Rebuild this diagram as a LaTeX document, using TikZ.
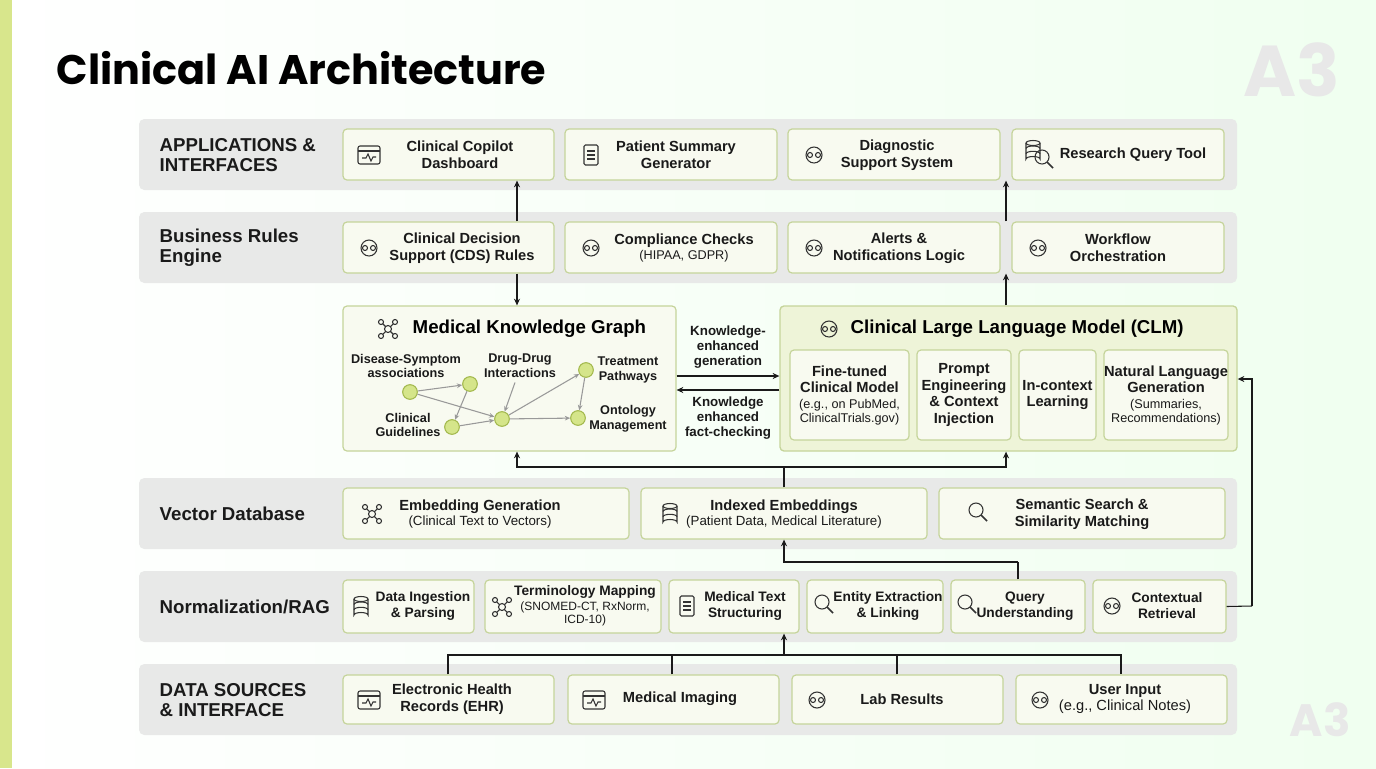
\documentclass[tikz,border=0pt]{standalone}
\usepackage{fontspec}
\setmainfont{Liberation Sans}
\newfontfamily\titlefont{Poppins}
\usetikzlibrary{fit,arrows.meta,calc}
\definecolor{band}{HTML}{E8E9E8}
\definecolor{bfill}{HTML}{F8FAF0}
\definecolor{bline}{HTML}{C5D49A}
\definecolor{clmfill}{HTML}{EEF4D8}
\definecolor{gnode}{HTML}{D5E58A}
\definecolor{gline}{HTML}{A3B94E}
\definecolor{ink}{HTML}{1A1A1A}
\definecolor{icon}{HTML}{333333}
\definecolor{strip}{HTML}{D8E68C}
\tikzset{
 x=0.75pt,y=-0.75pt,
 bandbox/.style={fill=band,draw=none,rounded corners=4pt,inner sep=0pt},
 box/.style={fill=bfill,draw=bline,line width=0.9pt,rounded corners=3pt,inner sep=0pt},
 clmbox/.style={fill=clmfill,draw=bline,line width=1pt,rounded corners=3pt,inner sep=0pt},
 bandlabel/.style={anchor=west,align=left,font=\bfseries\fontsize{14}{15}\selectfont,text=ink},
 bt/.style={align=center,font=\bfseries\fontsize{11}{12.5}\selectfont,text=ink},
 nt/.style={align=center,font=\bfseries\fontsize{10.3}{12}\selectfont,text=ink},
 conn/.style={draw=ink,line width=0.8pt},
 arr/.style={conn,-{Stealth[length=5pt,width=4.5pt]}},
 gdot/.style={circle,fill=gnode,draw=gline,line width=0.8pt,minimum size=11pt,inner sep=0pt},
 garr/.style={draw=gray!80,line width=0.8pt,-{Stealth[length=4pt,width=3.5pt]}},
 gl/.style={align=center,font=\bfseries\fontsize{9.5}{11}\selectfont,text=ink},
 ic/.style={draw=icon,line width=0.8pt},
}
\newcommand{\bx}[6][box]{\node[#1,fit={(#3,#4)(#5,#6)}] (#2) {};}
\newcommand{\icdb}[2]{\begin{scope}[shift={(#1,#2)}]\draw[ic] (-7,-8) -- (-7,8) arc[start angle=180,end angle=360,x radius=7,y radius=2.5] -- (7,-8); \draw[ic] (0,-8) ellipse[x radius=7,y radius=2.5]; \draw[ic] (-7,-2.5) arc[start angle=180,end angle=360,x radius=7,y radius=2.5]; \draw[ic] (-7,2.8) arc[start angle=180,end angle=360,x radius=7,y radius=2.5];\end{scope}}
\newcommand{\icmag}[2]{\begin{scope}[shift={(#1,#2)}]\draw[ic] (-2,-2) circle[radius=7]; \draw[ic,line width=1.2pt] (3,3) -- (9,9);\end{scope}}
\newcommand{\icdoc}[2]{\begin{scope}[shift={(#1,#2)}]\draw[ic,rounded corners=1pt] (-7,-10) rectangle (7,10); \foreach \yy in {-4,0,4}{\draw[ic] (-4,\yy) -- (4,\yy);}\end{scope}}
\newcommand{\icscr}[2]{\begin{scope}[shift={(#1,#2)}]\draw[ic,rounded corners=1.5pt] (-11,-9) rectangle (11,9); \draw[ic] (-11,-4) -- (11,-4); \draw[ic] (-7,3) -- (-3,3) -- (-1,-1) -- (2,6) -- (4,2) -- (7,2);\end{scope}}
\newcommand{\icgen}[2]{\begin{scope}[shift={(#1,#2)}]\draw[ic] (0,0) circle[radius=8]; \draw[ic] (-4,0) circle[radius=2.5]; \draw[ic] (4,0) circle[radius=2.5];\end{scope}}
\newcommand{\icnet}[2]{\begin{scope}[shift={(#1,#2)}]\draw[ic] (-7,-7) -- (7,7) (7,-7) -- (-7,7); \foreach \p in {(-7,-7),(7,7),(7,-7),(-7,7)}{\draw[ic,fill=bfill] \p circle[radius=2.5];}\draw[ic,fill=bfill] (0,0) circle[radius=3.5];\end{scope}}
\begin{document}
\begin{tikzpicture}
\useasboundingbox (0,0) rectangle (1376,768);
\shade[left color=white,right color=green!6!white] (0,0) rectangle (1376,768);
\fill[strip] (0,0) rectangle (12,768);
\node[anchor=west,font=\titlefont\bfseries\fontsize{31}{34}\selectfont,text=black] (title) at (52,68) {Clinical AI Architecture};
\node[font=\titlefont\bfseries\fontsize{54}{56}\selectfont,text=gray!18] (a3top) at (1292,70) {A3};
\node[font=\titlefont\bfseries\fontsize{34}{36}\selectfont,text=gray!18] (a3bot) at (1320,720) {A3};
% bands
\bx[bandbox]{b1}{139}{119}{1237}{190}
\bx[bandbox]{b2}{139}{212}{1237}{283}
\bx[bandbox]{b4}{139}{478}{1237}{549}
\bx[bandbox]{b5}{139}{571}{1237}{642}
\bx[bandbox]{b6}{139}{664}{1237}{735}
\node[bandlabel] (l1) at (155,155) {APPLICATIONS \&\\INTERFACES};
\node[bandlabel] (l2) at (155,248) {Business Rules\\Engine};
\node[bandlabel] (l4) at (155,514) {Vector Database};
\node[bandlabel] (l5) at (155,607) {Normalization/RAG};
\node[bandlabel] (l6) at (155,700) {DATA SOURCES\\\& INTERFACE};
% row 1
\bx{a1}{343}{129}{554}{180}\bx{a2}{565}{129}{777}{180}\bx{a3}{788}{129}{1000}{180}\bx{a4}{1012}{129}{1224}{180}
\icscr{369}{155}\icdoc{591}{155}\icgen{814}{155}\icdb{1033}{151}\icmag{1044}{159}
\node[bt] at (460,155) {Clinical Copilot\\Dashboard};
\node[bt] at (676,155) {Patient Summary\\Generator};
\node[bt] at (897,155) {Diagnostic\\Support System};
\node[bt] at (1133,155) {Research Query Tool};
% row 2
\bx{r1}{343}{222}{554}{273}\bx{r2}{565}{222}{777}{273}\bx{r3}{788}{222}{1000}{273}\bx{r4}{1012}{222}{1224}{273}
\icgen{369}{248}\icgen{591}{248}\icgen{814}{248}\icgen{1038}{248}
\node[bt] at (462,248) {Clinical Decision\\Support (CDS) Rules};
\node[bt] at (684,248) {Compliance Checks\\[-1pt]{\mdseries\fontsize{9.5}{11}\selectfont(HIPAA, GDPR)}};
\node[bt] at (899,248) {Alerts \&\\Notifications Logic};
\node[bt] at (1118,248) {Workflow\\Orchestration};
% KG
\bx{kg}{343}{306}{676}{451}
\icnet{388}{329}
\node[anchor=west,font=\bfseries\fontsize{14}{15}\selectfont] (kgt) at (408,329) {Medical Knowledge Graph};
\node[gdot] (n1) at (410,392) {};
\node[gdot] (n2) at (470,384) {};
\node[gdot] (n3) at (452,427) {};
\node[gdot] (n4) at (502,419) {};
\node[gdot] (n5) at (586,370) {};
\node[gdot] (n6) at (578,418) {};
\node[gl] (t1) at (406,366) {Disease-Symptom\\associations};
\node[gl] (t2) at (520,366) {Drug-Drug\\Interactions};
\node[gl] (t3) at (628,370) {Treatment\\Pathways};
\node[gl] (t4) at (408,425) {Clinical\\Guidelines};
\node[gl] (t5) at (628,419) {Ontology\\Management};
\draw[garr] (n1) -- (n2); \draw[garr] (n1) -- (n4); \draw[garr] (n2) -- (n3);
\draw[garr] (n3) -- (n4); \draw[garr] (n4) -- (n5); \draw[garr] (n4) -- (n6); \draw[garr] (n5) -- (n6);
\draw[garr] (t2.south) ++(-5,0) -- (n4);
% CLM
\bx[clmbox]{clm}{780}{306}{1237}{451}
\icgen{829}{329}
\node[anchor=west,font=\bfseries\fontsize{14}{15}\selectfont] (clmt) at (846,329) {Clinical Large Language Model (CLM)};
\bx{c1}{790}{350}{909}{440}\bx{c2}{917}{350}{1011}{440}\bx{c3}{1019}{350}{1096}{440}\bx{c4}{1104}{350}{1228}{440}
\node[bt] at (c1) {Fine-tuned\\Clinical Model\\[-1pt]{\mdseries\fontsize{9.5}{11}\selectfont(e.g., on PubMed,}\\[-2pt]{\mdseries\fontsize{9.5}{11}\selectfont ClinicalTrials.gov)}};
\node[bt] at (c2) {Prompt\\Engineering\\\& Context\\Injection};
\node[bt] at (c3) {In-context\\Learning};
\node[bt] at (c4) {Natural Language\\Generation\\[-1pt]{\mdseries\fontsize{9.5}{11}\selectfont(Summaries,}\\[-2pt]{\mdseries\fontsize{9.5}{11}\selectfont Recommendations)}};
\draw[arr] (kg.east|-0,376) -- (clm.west|-0,376);
\draw[arr] (clm.west|-0,390) -- (kg.east|-0,390);
\node[gl,font=\bfseries\fontsize{10}{11.5}\selectfont] (k1) at (728,347) {Knowledge-\\enhanced\\generation};
\node[gl,font=\bfseries\fontsize{10}{11.5}\selectfont] (k2) at (728,418) {Knowledge\\enhanced\\fact-checking};
% vector
\bx{v1}{343}{488}{629}{539}\bx{v2}{641}{488}{927}{539}\bx{v3}{939}{488}{1225}{539}
\icnet{372}{514}\icdb{670}{514}\icmag{978}{512}
\node[bt] at (480,514) {Embedding Generation\\[-1pt]{\mdseries\fontsize{10}{11.5}\selectfont(Clinical Text to Vectors)}};
\node[bt] at (784,514) {Indexed Embeddings\\[-1pt]{\mdseries\fontsize{10}{11.5}\selectfont(Patient Data, Medical Literature)}};
\node[bt] at (1082,514) {Semantic Search \&\\Similarity Matching};
% norm
\bx{m1}{343}{580}{474}{633}\bx{m2}{485}{580}{661}{633}\bx{m3}{669}{580}{799}{633}\bx{m4}{807}{580}{943}{633}\bx{m5}{951}{580}{1085}{633}\bx{m6}{1093}{580}{1226}{633}
\icdb{361}{607}\icnet{502}{607}\icdoc{687}{606}\icmag{824}{604}\icmag{967}{604}\icgen{1112}{606}
\node[nt] at (423,606) {Data Ingestion\\\& Parsing};
\node[nt] at (585,606) {Terminology Mapping\\[-1pt]{\mdseries\fontsize{9}{10.5}\selectfont(SNOMED-CT, RxNorm,}\\[-2pt]{\mdseries\fontsize{9}{10.5}\selectfont ICD-10)}};
\node[nt] at (745,606) {Medical Text\\Structuring};
\node[nt] at (888,606) {Entity Extraction\\\& Linking};
\node[nt] at (1025,606) {Query\\Understanding};
\node[nt] at (1167,606) {Contextual\\Retrieval};
% data sources
\bx{d1}{343}{675}{554}{724}\bx{d2}{568}{675}{779}{724}\bx{d3}{792}{675}{1003}{724}\bx{d4}{1016}{675}{1227}{724}
\icscr{369}{700}\icscr{594}{700}\icgen{817}{700}\icgen{1040}{700}
\node[bt] at (452,699) {Electronic Health\\Records (EHR)};
\node[bt] at (680,699) {Medical Imaging};
\node[bt] at (902,699) {Lab Results};
\node[bt] at (1125,699) {User Input\\{\mdseries(e.g., Clinical Notes)}};
% connectors
\draw[arr] (517,0|-r1.north) -- (517,0|-a1.south);
\draw[arr] (1006,0|-r3.north) -- (1006,0|-a3.south);
\draw[arr] (517,0|-r1.south) -- (517,0|-kg.north);
\draw[arr] (1006,0|-clm.north) -- (1006,0|-r3.south);
\coordinate (vj) at (784,467);
\draw[conn] (784,0|-v2.north) -- (vj);
\draw[arr] (vj) -| (517,0|-kg.south);
\draw[arr] (vj) -| (1006,0|-clm.south);
\coordinate (qj) at (1018,562);
\draw[conn] (1018,0|-m5.north) -- (qj);
\draw[arr] (qj) -| (784,0|-v2.south);
\coordinate (dj) at (784,655);
\draw[conn] (448,0|-d1.north) |- (dj) -| (1121,0|-d4.north);
\draw[conn] (672,0|-d2.north) -- (672,655);
\draw[conn] (897,0|-d3.north) -- (897,655);
\draw[arr] (dj) -- (784,0|-m3.south);
\coordinate (cr) at (1252,606);
\draw[conn] (m6.east) -- (cr);
\draw[arr] (cr) |- (clm.east|-0,379);
\end{tikzpicture}
\end{document}
